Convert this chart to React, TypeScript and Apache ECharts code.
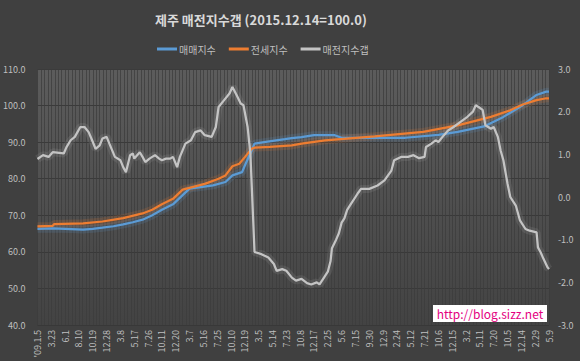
import React, { useEffect, useRef } from "react";
import * as echarts from "echarts";

const FONT = "'Noto Sans CJK KR', 'Noto Sans', sans-serif";

const titleText = "제주 매전지수갭 (2015.12.14=100.0)";
const seriesNames = ["매매지수", "전세지수", "매전지수갭"];

// tick labels every 10 weekly points
const tickLabels = [
  "'09.1.5", "3.23", "6.1", "8.10", "10.19", "12.28", "3.8", "5.17", "7.26", "10.11",
  "12.20", "3.7", "5.16", "7.25", "10.10", "12.19", "3.5", "5.14", "7.23", "10.8",
  "12.17", "2.25", "5.6", "7.15", "9.30", "12.9", "2.24", "5.12", "7.21", "10.6",
  "12.15", "3.2", "5.11", "7.20", "10.5", "12.14", "2.29", "5.9",
];

// [week index, value]
const saleIndex: [number, number][] = [
  [0, 66.3], [11, 66.4], [20, 66.3], [33, 66.1], [40, 66.3], [47, 66.6], [55, 67.0], [62, 67.5],
  [69, 68.1], [76, 68.8], [83, 70.0], [90, 71.5], [98, 73.0], [105, 75.5], [110, 77.3],
  [127, 78.2], [136, 79.1], [141, 80.9], [148, 81.8], [150, 83.6], [155, 87.8], [157, 89.6],
  [164, 90.0], [179, 90.8], [184, 91.1], [191, 91.4], [200, 91.9], [215, 91.9], [220, 91.2],
  [266, 91.2], [290, 92.0], [304, 92.8], [323, 94.3], [337, 96.9], [351, 100.1], [361, 102.9],
  [368, 103.8], [370, 103.8],
];

const jeonseIndex: [number, number][] = [
  [0, 67.0], [11, 67.1], [12, 67.6], [33, 67.8], [47, 68.3], [62, 69.2], [76, 70.5], [83, 71.5],
  [90, 73.0], [98, 74.5], [105, 77.0], [121, 78.6], [131, 80.0], [136, 80.9], [141, 83.4],
  [146, 84.1], [150, 85.9], [155, 88.2], [157, 88.5], [168, 88.7], [184, 89.1], [191, 89.6],
  [208, 90.5], [244, 91.6], [279, 92.8], [304, 94.6], [328, 96.9], [342, 98.7], [351, 100.3],
  [361, 101.5], [368, 102.0], [370, 102.0],
];

const gapIndex: [number, number][] = [
  [0, 0.89], [4, 0.98], [8, 0.94], [11, 1.05], [19, 1.02], [21, 1.17], [24, 1.33], [27, 1.41],
  [31, 1.64], [34, 1.64], [37, 1.52], [39, 1.37], [42, 1.13], [45, 1.21], [47, 1.37], [50, 1.41],
  [52, 1.25], [56, 0.94], [60, 0.86], [62, 0.7], [64, 0.58], [67, 0.98], [69, 1.02], [70, 0.9],
  [74, 1.05], [76, 0.94], [78, 0.82], [81, 0.9], [83, 0.94], [85, 0.98], [88, 0.9], [90, 0.86],
  [93, 0.9], [96, 0.9], [98, 0.94], [101, 0.7], [103, 0.94], [107, 1.25], [111, 1.33],
  [114, 1.52], [118, 1.56], [121, 1.45], [126, 1.41], [129, 1.64], [131, 2.11], [135, 2.27],
  [139, 2.43], [141, 2.58], [144, 2.39], [147, 2.19], [149, 2.15], [152, 1.64], [154, 1.02],
  [157, -1.29], [162, -1.34], [167, -1.42], [171, -1.57], [173, -1.73], [177, -1.69],
  [180, -1.73], [184, -1.89], [187, -1.96], [191, -1.92], [195, -2.02], [198, -2.05],
  [202, -2.0], [204, -2.05], [207, -1.9], [210, -1.75], [212, -1.5], [213, -1.2], [216, -1.0],
  [218, -0.85], [220, -0.6], [222, -0.5], [224, -0.3], [227, -0.15], [230, 0.0], [232, 0.1],
  [234, 0.19], [240, 0.19], [246, 0.27], [251, 0.39], [256, 0.62], [258, 0.86], [263, 0.94],
  [268, 0.94], [272, 0.98], [276, 0.91], [280, 0.94], [281, 1.17], [285, 1.25], [288, 1.33],
  [290, 1.29], [294, 1.45], [297, 1.56], [301, 1.64], [306, 1.76], [311, 1.88], [315, 2.0],
  [317, 2.15], [319, 2.11], [322, 2.04], [324, 1.68], [328, 1.6], [330, 1.64], [333, 1.41],
  [335, 1.09], [337, 0.86], [340, 0.31], [342, 0.0], [346, -0.2], [349, -0.55], [353, -0.75],
  [356, -0.79], [361, -0.83], [362, -1.18], [364, -1.3], [366, -1.45], [369, -1.65], [370, -1.69],
];

const colors = ["#5b9bd5", "#ed7d31", "#c4c4c4"];

export default function App() {
  const ref = useRef<HTMLDivElement>(null);
  useEffect(() => {
    if (!ref.current) return;
    const chart = echarts.init(ref.current, null, { renderer: "svg" });
    const dataSets = [saleIndex, jeonseIndex, gapIndex];
    const glowSeries = seriesNames.map((name, i) => ({
      name: name + " glow",
      type: "line",
      yAxisIndex: i === 2 ? 1 : 0,
      data: dataSets[i],
      showSymbol: false,
      symbol: "none",
      silent: true,
      tooltip: { show: false },
      lineStyle: { color: colors[i], width: 8, opacity: i === 2 ? 0.12 : 0.16 },
      z: 1,
    }));
    const mainSeries = seriesNames.map((name, i) => ({
      name,
      type: "line",
      yAxisIndex: i === 2 ? 1 : 0,
      data: dataSets[i],
      showSymbol: false,
      symbol: "none",
      color: colors[i],
      lineStyle: { color: colors[i], width: 2.25 },
      z: 2 + i,
    }));
    chart.setOption({
      animation: false,
      backgroundColor: "#404040",
      textStyle: { fontFamily: FONT },
      title: {
        text: titleText,
        left: 150,
        top: 8,
        textStyle: { color: "#d9d9d9", fontSize: 13, fontWeight: "bold", fontFamily: FONT },
      },
      legend: {
        top: 39,
        left: 152,
        itemWidth: 20,
        itemHeight: 3,
        itemGap: 13,
        icon: "rect",
        textStyle: { color: "#bfbfbf", fontSize: 10, fontFamily: FONT, padding: [0, 0, 0, -3] },
        data: seriesNames,
      },
      grid: {
        left: 34,
        right: 31,
        top: 69,
        bottom: 36,
        show: true,
        borderWidth: 0,
        backgroundColor: new echarts.graphic.LinearGradient(0, 0, 0, 1, [
          { offset: 0, color: "#5c5c5c" },
          { offset: 1, color: "#434343" },
        ]),
      },
      xAxis: {
        type: "value",
        min: 0,
        max: 370,
        interval: 10,
        axisLine: { show: false },
        axisTick: { show: false },
        minorTick: { show: false, splitNumber: 4 },
        splitLine: { show: true, lineStyle: { color: "rgba(60,60,60,0.75)", width: 1 } },
        minorSplitLine: { show: true, lineStyle: { color: "rgba(60,60,60,0.75)", width: 1 } },
        axisLabel: {
          rotate: 90,
          color: "#bfbfbf",
          fontSize: 9,
          fontFamily: FONT,
          margin: 5,
          showMinLabel: true,
          showMaxLabel: true,
          formatter: (v: number) => tickLabels[Math.round(v / 10)] ?? "",
        },
      },
      yAxis: [
        {
          type: "value",
          min: 40,
          max: 110,
          interval: 10,
          axisLine: { show: false },
          axisTick: { show: false },
          splitLine: { lineStyle: { color: "rgba(55,55,55,0.9)", width: 1 } },
          axisLabel: {
            color: "#bfbfbf",
            fontSize: 9,
            fontFamily: FONT,
            margin: 12,
            formatter: (v: number) => v.toFixed(1),
          },
        },
        {
          type: "value",
          min: -3,
          max: 3,
          interval: 1,
          axisLine: { show: false },
          axisTick: { show: false },
          splitLine: { show: false },
          axisLabel: {
            color: "#bfbfbf",
            fontSize: 9,
            fontFamily: FONT,
            margin: 9,
            formatter: (v: number) => v.toFixed(1),
          },
        },
      ],
      series: [...glowSeries, ...mainSeries],
      graphic: [
        {
          type: "rect",
          shape: { x: 433, y: 305, width: 114, height: 17 },
          style: { fill: "#ffffff" },
          z: 100,
        },
        {
          type: "text",
          x: 490,
          y: 313.5,
          style: {
            text: "http://blog.sizz.net",
            fill: "#e4007f",
            font: `12px ${FONT}`,
            align: "center",
            verticalAlign: "middle",
          },
          z: 101,
        },
      ],
    });
    return () => chart.dispose();
  }, []);
  return (
    <div
      ref={ref}
      style={{ position: "absolute", left: 0, top: 0, width: 580, height: 361 }}
    />
  );
}
